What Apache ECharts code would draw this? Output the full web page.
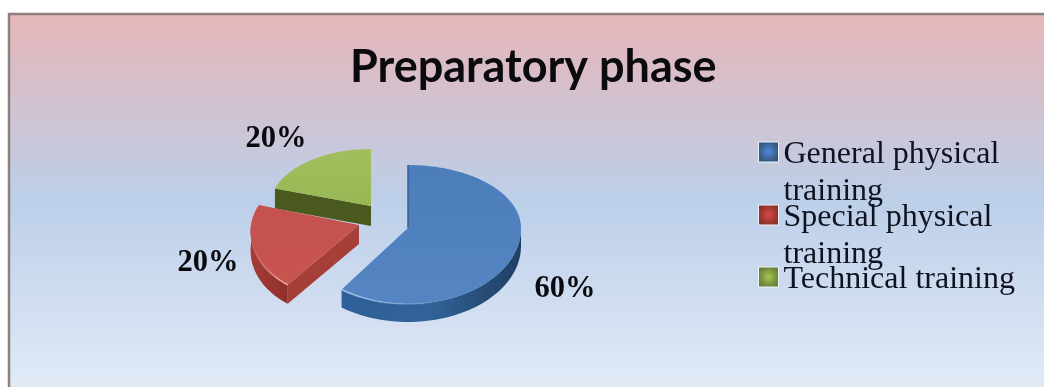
<!DOCTYPE html>
<html>
<head>
<meta charset="utf-8">
<style>
  html, body { margin: 0; padding: 0; background: #fff; }
  #chart { width: 1044px; height: 387px; }
</style>
<script src="https://cdn.jsdelivr.net/npm/echarts@6/dist/echarts.min.js"></script>
</head>
<body>
<div id="chart"></div>
<script>
const chartTitle = 'Preparatory phase';
const categories = ['General physical training', 'Special physical training', 'Technical training'];
const legendLines = ['General physical\ntraining', 'Special physical\ntraining', 'Technical training'];
const shares = [60, 20, 20];

// Projection of each exploded wedge: the disc is tilted, so the half nearer the
// viewer is taller than the far half.
const wedgeStyles = [
  { cx: 408, cy: 228, rx: 113, up: 63, down: 76, depth: 18, shear: 0,
    top: ['#4a7dba', '#5586c3'], side: ['#2f5f98', '#316297', '#1f3f62'], rim: '#a9c6ea',
    cut: '#2a5282', labelAt: [565, 289] },
  { cx: 359, cy: 225, rx: 108, up: 65, down: 74, depth: 19, shear: -0.13,
    top: ['#c4524e', '#c9534f'], side: ['#a63b36', '#a23a35', '#8f302c'], rim: '#f2b3ae',
    cut: '#a63f38', labelAt: [208, 263] },
  { cx: 371, cy: 206, rx: 101, up: 57, down: 70, depth: 20, shear: 0,
    top: ['#a0bf5c', '#98b856'], side: ['#4b5a1e', '#4b5a1e', '#4b5a1e'], rim: null,
    cut: '#4a5a1f', labelAt: [276, 139] }
];

// Legend markers: bright centre falling off to a dark edge
const legendGlow = [
  ['#4f8ad6', '#35557f'],
  ['#d64a45', '#8c2f2b'],
  ['#a4c452', '#6b8038']
];
const legendRows = [142, 205, 267];

function rimPoint(s, deg, lift) {
  const a = deg * Math.PI / 180;
  const c = Math.cos(a);
  const dy = -(c > 0 ? s.up : s.down) * c;
  return [s.cx + s.rx * Math.sin(a) + s.shear * dy, s.cy + dy + (lift || 0)];
}

function arcPoints(s, from, to, lift) {
  const pts = [];
  const steps = Math.max(2, Math.ceil(Math.abs(to - from) / 2));
  for (let i = 0; i <= steps; i++) pts.push(rimPoint(s, from + (to - from) * i / steps, lift));
  return pts;
}

function linear(x, y, x2, y2, stops) {
  return { type: 'linear', x, y, x2, y2, colorStops: stops.map((color, i) => ({ offset: i / (stops.length - 1), color })) };
}

function wedgeRenderer(index) {
  return function (params, api) {
    const total = shares.reduce((a, b) => a + b, 0);
    const before = shares.slice(0, index).reduce((a, b) => a + b, 0);
    const from = before / total * 360;
    const to = from + api.value(0) / total * 360;
    const s = wedgeStyles[index];
    const apex = [s.cx, s.cy];
    const children = [];

    // Cut face turned towards the viewer
    if (index > 0) {
      const p = rimPoint(s, from);
      children.push({
        type: 'polygon',
        shape: { points: [apex, p, [p[0], p[1] + s.depth], [apex[0], apex[1] + s.depth]] },
        style: { fill: s.cut }
      });
    }

    // Outer wall on the front half of the disc
    const wallFrom = Math.max(from, 90);
    const wallTo = Math.min(to, 270);
    if (wallTo > wallFrom) {
      const upper = arcPoints(s, wallFrom, wallTo, 0);
      const lower = arcPoints(s, wallFrom, wallTo, s.depth).reverse();
      children.push({
        type: 'polygon',
        shape: { points: upper.concat(lower) },
        style: { fill: linear(0, 0, 1, 0, index === 0 ? [s.side[0], s.side[1], s.side[2]] : [s.side[0], s.side[2]]) }
      });
    }

    // Top surface
    const topFace = [apex].concat(arcPoints(s, from, to, 0));
    children.push({
      type: 'polygon',
      shape: { points: topFace },
      style: { fill: linear(0, 0, 0, 1, s.top) }
    });

    // Shaded inner edge of the large wedge
    if (index === 0) {
      children.push({
        type: 'line',
        shape: { x1: apex[0], y1: apex[1], x2: rimPoint(s, from)[0], y2: rimPoint(s, from)[1] },
        style: { stroke: '#37618f', lineWidth: 1.5 }
      });
    }

    // Bevel catching the light along the front rim
    if (s.rim) {
      const rimFrom = index === 0 ? 165 : 216;
      const rimTo = index === 0 ? 216 : 250;
      children.push({
        type: 'polyline',
        shape: { points: arcPoints(s, rimFrom, rimTo, 0) },
        style: {
          fill: null, lineWidth: 1.6,
          stroke: linear(index === 0 ? 1 : 0, 0, index === 0 ? 0 : 1, 0, [s.rim + '00', s.rim])
        }
      });
    }

    children.push({
      type: 'text',
      x: s.labelAt[0], y: s.labelAt[1],
      style: {
        text: api.value(0) + '%',
        fill: '#0a0a0f',
        font: 'bold 30.5px "Liberation Serif"',
        align: 'center', verticalAlign: 'middle'
      }
    });
    return { type: 'group', children };
  };
}

const tallMarker = 'path://M0 0H20V20H0ZM0 62L0 62';
const plainMarker = 'path://M0 0H20V20H0ZM0 26L0 26';

const chart = echarts.init(document.getElementById('chart'), null, { renderer: 'canvas' });
chart.setOption({
  animation: false,
  graphic: [{
    type: 'rect',
    z: -10,
    shape: { x: 9, y: 14, width: 1060, height: 400 },
    style: {
      stroke: '#8b8280', lineWidth: 2.5,
      fill: {
        type: 'linear', x: 0, y: 0, x2: 0, y2: 0.9375,
        colorStops: [
          { offset: 0, color: '#e6b6b8' },
          { offset: 0.5, color: '#bccfe9' },
          { offset: 1, color: '#e2eaf6' }
        ]
      }
    }
  }],
  title: {
    text: chartTitle,
    left: 350, top: 45,
    padding: 0,
    textStyle: { fontFamily: 'Lato', fontWeight: 'bold', fontSize: 45, color: '#0a0a0f' }
  },
  legend: categories.map((name, i) => {
    const tall = i < 2;
    return {
      data: [{
        name,
        icon: tall ? tallMarker : plainMarker,
        itemStyle: {
          color: {
            type: 'radial', x: 0.5, y: tall ? 10 / 62 : 10 / 26, r: 0.5,
            colorStops: [
              { offset: 0, color: legendGlow[i][0] },
              { offset: 1, color: legendGlow[i][1] }
            ]
          },
          borderColor: '#eef3fa', borderWidth: 1
        }
      }],
      left: 758,
      top: tall ? legendRows[i] - 6 : legendRows[i] - 5.5,
      padding: 0,
      selectedMode: false,
      itemWidth: 20,
      itemHeight: tall ? 62 : 26,
      itemGap: 0,
      formatter: () => legendLines[i],
      textStyle: {
        fontFamily: 'Liberation Serif', fontSize: 32, lineHeight: 37, color: '#10131f'
      }
    };
  }),
  series: categories.map((name, i) => ({
    type: 'custom',
    name,
    coordinateSystem: 'none',
    silent: true,
    itemStyle: { color: legendGlow[i][1] },
    z: 3 - i + (i === 0 ? 3 : 0),
    renderItem: wedgeRenderer(i),
    data: [[shares[i]]]
  }))
});
</script>
</body>
</html>
